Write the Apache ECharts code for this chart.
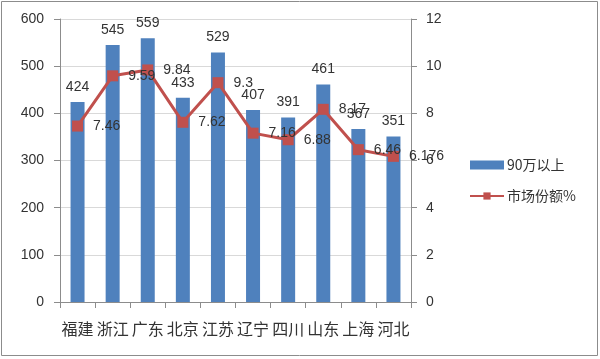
<!DOCTYPE html>
<html><head><meta charset="utf-8">
<script src="https://cdn.jsdelivr.net/npm/echarts@6/dist/echarts.min.js"></script>
<style>html,body{margin:0;padding:0;background:#fff}#c{width:600px;height:359px}</style>
</head><body><div id="c"></div>
<script>
var categories = ['福建','浙江','广东','北京','江苏','辽宁','四川','山东','上海','河北'];
var sales = [424, 545, 559, 433, 529, 407, 391, 461, 367, 351];
var share = [7.46, 9.59, 9.84, 7.62, 9.3, 7.16, 6.88, 8.17, 6.46, 6.176];
var leftTicks = {min: 0, max: 600, interval: 100};
var rightTicks = {min: 0, max: 12, interval: 2};

var chart = echarts.init(document.getElementById('c'));
var font = 'Liberation Sans, Arial, sans-serif';
var cjk = '"Noto Sans CJK SC", sans-serif';
chart.setOption({
  backgroundColor: '#fff',
  animation: false,
  graphic: [{type: 'rect', shape: {x: 1.5, y: 1.5, width: 596, height: 354}, style: {fill: 'none', stroke: '#8c8c8c', lineWidth: 1}}],
  grid: {left: 60, right: 189, top: 19, bottom: 57},
  legend: {
    orient: 'vertical', left: 464, top: 153, itemGap: 17, itemWidth: 34, itemHeight: 9,
    textStyle: {fontFamily: cjk, fontSize: 14, color: '#333', padding: [0, 0, 0, -2]},
    data: [{name: '90万以上', icon: 'rect'}, {name: '市场份额%'}]
  },
  xAxis: {
    type: 'category', data: categories,
    axisLine: {lineStyle: {color: '#8c8c8c'}},
    axisTick: {show: true, length: 6, lineStyle: {color: '#8c8c8c'}},
    axisLabel: {fontFamily: cjk, fontSize: 16, color: '#333', margin: 19, interval: 0}
  },
  yAxis: [{
    type: 'value', min: leftTicks.min, max: leftTicks.max, interval: leftTicks.interval,
    axisLine: {show: true, lineStyle: {color: '#8c8c8c'}},
    axisTick: {show: true, length: 6, lineStyle: {color: '#8c8c8c'}},
    axisLabel: {fontFamily: font, fontSize: 14, color: '#333', margin: 16},
    splitLine: {lineStyle: {color: '#d9d9d9'}}
  }, {
    type: 'value', min: rightTicks.min, max: rightTicks.max, interval: rightTicks.interval,
    axisLine: {show: true, lineStyle: {color: '#8c8c8c'}},
    axisTick: {show: true, length: 6, lineStyle: {color: '#8c8c8c'}},
    axisLabel: {fontFamily: font, fontSize: 14, color: '#333', margin: 15},
    splitLine: {show: false}
  }],
  series: [{
    name: '90万以上', type: 'bar', data: sales, barWidth: 14,
    itemStyle: {color: '#4F81BD'},
    label: {show: true, position: 'top', distance: 8, fontFamily: font, fontSize: 14, color: '#333'}
  }, {
    name: '市场份额%', type: 'line', yAxisIndex: 1, data: share,
    symbol: 'rect', symbolSize: 11,
    lineStyle: {color: '#C0504D', width: 3},
    itemStyle: {color: '#C0504D'},
    label: {show: true, position: 'right', distance: 10, fontFamily: font, fontSize: 14, color: '#333'}
  }]
});
</script></body></html>
